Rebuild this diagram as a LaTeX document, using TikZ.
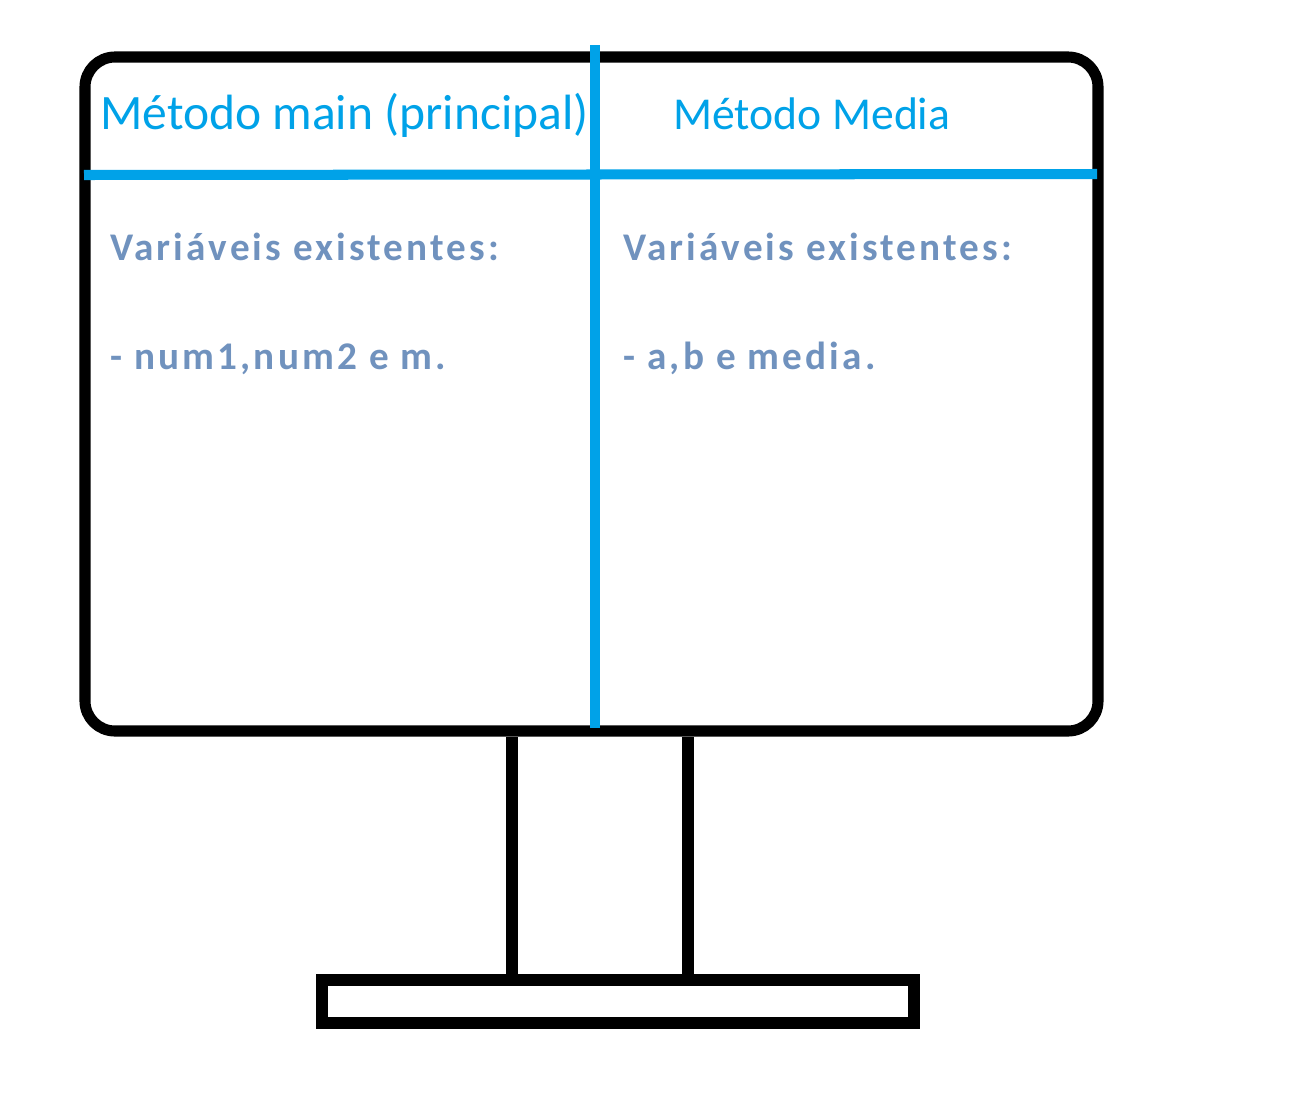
\documentclass[tikz,border=0pt]{standalone}
\usepackage{fontspec}
\setmainfont{Carlito}
\newfontfamily\bodyfont[LetterSpace=8]{Carlito}
\definecolor{paintblue}{HTML}{00A2E8}
\definecolor{paintgray}{HTML}{7092BE}

\begin{document}
\begin{tikzpicture} [
    x=0.02cm, y=-0.02cm,
      frame/.style  = { draw=black, line width=6.3pt },
      divider/.style = { draw=paintblue, line width=5.7pt },
      title/.style  = { anchor=base west, inner sep=0pt, text=paintblue,
                        font=\fontsize{28.2}{31}\selectfont },
      body/.style   = { anchor=base west, inner sep=0pt, text=paintgray,
                        font=\bodyfont\bfseries\fontsize{22.3}{26}\selectfont },
  ]
\useasboundingbox (0,0) rectangle (1300,1092);

% monitor
\path[frame, rounded corners=0.6cm] (85,57) rectangle (1098,731);
\path[frame] (512,737) -- (512,980);
\path[frame] (688,737) -- (688,980);
\path[frame, line width=7pt] (322,980) rectangle (914,1023);

% columns
\path[divider] (595,45) -- (595,728);
\path[divider] (84,175) -- (1097,174);

\node (main) [title] at (100,129) {Método main (principal)};
\node (media) [title, font=\fontsize{26}{29}\selectfont] at (673,129) {Método Media};
\node (varMain) [body] at (110,260) {Variáveis existentes:};
\node (listMain) [body] at (110,369) {- num1,num2 e m.};
\node (varMedia) [body] at (623,260) {Variáveis existentes:};
\node (listMedia) [body] at (623,369) {- a,b e media.};

\end{tikzpicture}
\end{document}
